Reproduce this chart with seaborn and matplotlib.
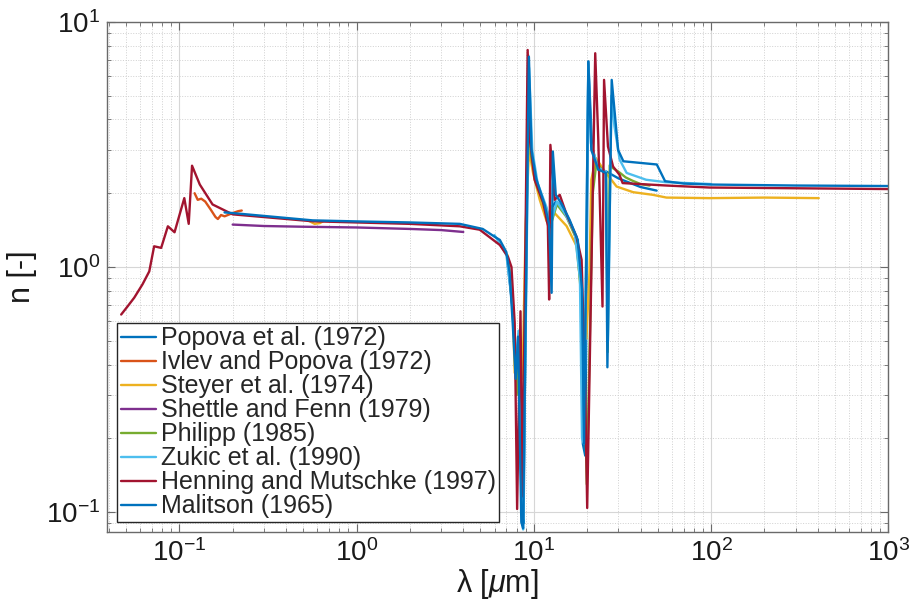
import numpy as np
import seaborn as sns
import matplotlib
matplotlib.use("Agg")
import matplotlib.pyplot as plt
from matplotlib.ticker import LogLocator, NullFormatter

# refractive index n of SiO2 vs wavelength (um)
popova_lam = [7.1, 7.6, 7.9, 8.2, 8.55, 8.75, 9.3, 9.6, 10.2, 11.5, 12.3, 12.7, 13.3,
              14.5, 16.0, 17.5, 18.5, 18.9, 19.5, 20.3, 21.3, 23.0, 25.7, 30.0, 40.0, 49.3]
popova_n = [1.05, 0.67, 0.38, 0.50, 0.10, 0.09, 7.3, 3.2, 2.25, 1.78, 1.45, 1.75, 1.85,
            1.75, 1.52, 1.30, 0.90, 0.19, 0.17, 6.9, 3.1, 2.5, 2.45, 2.3, 2.12, 2.05]

ivlev_lam = [0.122, 0.127, 0.133, 0.140, 0.150, 0.160, 0.165, 0.172, 0.180, 0.200, 0.215, 0.225]
ivlev_n = [2.0, 1.88, 1.90, 1.85, 1.72, 1.60, 1.57, 1.63, 1.61, 1.66, 1.69, 1.70]

steyer_lam = [7.1, 7.6, 7.8, 8.25, 8.63, 9.0, 9.4, 9.9, 10.8, 11.8, 12.6, 13.1, 15.3,
              17.4, 18.9, 19.8, 20.6, 21.1, 22.4, 25.2, 29.3, 36.3, 47.0, 56.0, 98.0, 200.0, 405.0]
steyer_n = [1.12, 0.69, 0.37, 0.49, 0.35, 1.5, 3.0, 2.42, 1.88, 1.54, 1.77, 1.66, 1.47,
            1.22, 0.69, 0.51, 0.95, 2.27, 2.78, 2.45, 2.13, 2.02, 1.97, 1.92, 1.91, 1.92, 1.91]
steyer_vis_lam = [0.54, 0.58, 0.62, 0.65]
steyer_vis_n = [1.54, 1.50, 1.51, 1.54]

shettle_lam = [0.2, 0.3, 0.5, 1.0, 2.0, 3.0, 4.0]
shettle_n = [1.49, 1.47, 1.46, 1.45, 1.43, 1.415, 1.39]

philipp_lam = [7.2, 7.7, 8.0, 8.3, 8.6, 9.3, 9.6, 10.3, 11.5, 12.5, 13.5, 15.3, 17.4,
               19.0, 19.9, 21.5, 22.6, 24.5, 25.6, 26.1, 26.8, 27.5, 30.0, 33.0, 36.0, 40.0, 45.0]
philipp_n = [1.05, 0.60, 0.30, 0.45, 0.15, 4.0, 2.9, 2.2, 1.75, 1.5, 1.8, 1.6, 1.3,
             0.6, 0.13, 2.0, 2.7, 2.45, 2.4, 0.45, 2.6, 2.55, 2.45, 2.32, 2.25, 2.18, 2.15]

zukic_lam = [6.0, 7.0, 7.5, 7.9, 8.2, 8.5, 8.7, 9.4, 9.8, 10.5, 11.8, 12.4, 13.5, 15.0,
             17.0, 18.2, 18.7, 19.2, 20.3, 21.0, 23.0, 25.5, 26.2, 27.4, 28.5, 30.5,
             33.4, 43.0, 55.0, 100.0]
zukic_n = [1.35, 1.12, 0.75, 0.40, 0.55, 0.12, 0.085, 6.5, 3.0, 2.2, 1.75, 1.5, 1.85, 1.65,
           1.38, 0.9, 0.2, 0.19, 6.6, 3.2, 2.55, 2.45, 0.5, 5.0, 3.75, 2.74,
           2.42, 2.27, 2.22, 2.18]

henning_lam = [0.047, 0.051, 0.0557, 0.062, 0.0677, 0.0721, 0.079, 0.0862, 0.094, 0.1067,
               0.113, 0.118, 0.1305, 0.154, 0.2, 0.565, 1.0, 2.0, 3.82, 4.95, 6.43, 7.15,
               7.48, 7.8, 8.05, 8.41, 8.63, 9.23, 9.5, 10.1, 11.3, 12.0, 12.2, 12.4, 13.1,
               14.0, 15.3, 17.4, 18.6, 19.4, 20.0, 22.2, 23.1, 24.4, 24.9, 26.2, 28.0, 30.4,
               31.7, 56.0, 98.0, 1000.0]
henning_n = [0.64, 0.69, 0.75, 0.85, 0.96, 1.215, 1.197, 1.466, 1.386, 1.91,
             1.50, 2.59, 2.17, 1.80, 1.64, 1.537, 1.52, 1.50, 1.466, 1.42, 1.23, 1.1,
             1.0, 0.59, 0.103, 0.66, 0.116, 7.68, 3.31, 2.27, 1.83, 1.47, 0.737, 3.15, 1.88,
             1.97, 1.64, 1.33, 1.07, 0.37, 0.104, 7.45, 3.31, 0.69, 5.8, 3.1, 2.57, 2.38,
             2.20, 2.15, 2.11, 2.08]

malitson_lam = [0.18, 0.2, 0.565, 1.0, 2.0, 3.82, 5.15, 6.0, 6.43, 7.0, 7.3, 7.6, 7.9,
                8.15, 8.5, 8.7, 9.38, 9.7, 10.3, 11.5, 12.2, 12.6, 12.8, 13.3, 14.4, 15.9,
                17.7, 18.7, 19.2, 20.3, 21.1, 23.1, 25.5, 26.0, 27.5, 29.9, 32.0, 49.4,
                55.0, 70.0, 100.0, 300.0, 1000.0]
malitson_n = [1.67, 1.66, 1.55, 1.535, 1.52, 1.50, 1.43, 1.33, 1.29, 1.15, 0.95, 0.59, 0.35,
              0.52, 0.091, 0.086, 7.2, 3.0, 2.3, 1.8, 1.49, 0.785, 2.96, 1.97, 1.8, 1.56,
              1.29, 0.81, 0.19, 6.88, 3.0, 2.5, 2.42, 0.39, 5.8, 3.0, 2.7, 2.62,
              2.24, 2.19, 2.17, 2.15, 2.14]

labels = ["Popova et al. (1972)", "Ivlev and Popova (1972)", "Steyer et al. (1974)",
          "Shettle and Fenn (1979)", "Philipp (1985)", "Zukic et al. (1990)",
          "Henning and Mutschke (1997)", "Malitson (1965)"]
colors = ["#0072BD", "#D95319", "#EDB120", "#7E2F8E", "#77AC30", "#4DBEEE", "#A2142F", "#0072BD"]

sns.set_style("ticks")
plt.rcParams['font.family'] = ['Liberation Sans', 'DejaVu Sans']
plt.rcParams['mathtext.fontset'] = 'custom'
plt.rcParams['mathtext.rm'] = 'Liberation Sans'
plt.rcParams['mathtext.it'] = 'Liberation Sans:italic'

fig, ax = plt.subplots(figsize=(9.13, 6.08), dpi=100)
fig.subplots_adjust(left=0.117, right=0.973, bottom=0.125, top=0.964)

series = [(popova_lam, popova_n), (ivlev_lam, ivlev_n), (steyer_lam, steyer_n),
          (shettle_lam, shettle_n), (philipp_lam, philipp_n), (zukic_lam, zukic_n),
          (henning_lam, henning_n), (malitson_lam, malitson_n)]

for (lam, n), label, color in zip(series, labels, colors):
    sns.lineplot(x=lam, y=n, ax=ax, color=color, label=label, lw=1.7,
                 sort=False, estimator=None)
    if label.startswith("Steyer"):
        sns.lineplot(x=steyer_vis_lam, y=steyer_vis_n, ax=ax, color=color, lw=1.7,
                     sort=False, estimator=None, legend=False)

ax.set_xscale("log")
ax.set_yscale("log")
ax.set_xlim(0.039, 1000)
ax.set_ylim(0.083, 10)

for axis in (ax.xaxis, ax.yaxis):
    axis.set_major_locator(LogLocator(base=10, numticks=12))
    axis.set_minor_locator(LogLocator(base=10, subs=np.arange(2, 10), numticks=100))
    axis.set_minor_formatter(NullFormatter())

ax.grid(True, which="major", color="#d6d6d6", lw=0.8, ls="-")
ax.grid(True, which="minor", color="#d0d0d0", lw=0.7, ls=":")
ax.set_axisbelow(True)

for sp in ax.spines.values():
    sp.set_color("#6a6a6a")
    sp.set_linewidth(1.0)
ax.tick_params(which="both", direction="in", top=True, right=True, color="#6a6a6a",
               labelcolor="#1a1a1a")
ax.tick_params(which="major", length=6, labelsize=20, pad=5)
ax.tick_params(which="minor", length=3)

ax.set_xlabel("λ [$\\mu$m]", fontsize=22, color="#1a1a1a", labelpad=0)
ax.set_ylabel("n [-]", fontsize=22, color="#1a1a1a", labelpad=6)

leg = ax.legend(loc="lower left", fontsize=18, frameon=True, fancybox=False,
                edgecolor="#262626", framealpha=1, labelspacing=0.0,
                handlelength=1.4, handletextpad=0.2, borderpad=0.15, borderaxespad=0.4)
leg.get_frame().set_linewidth(1.0)
for h in leg.get_lines():
    h.set_linewidth(1.7)

plt.savefig("out.png", dpi=100)
